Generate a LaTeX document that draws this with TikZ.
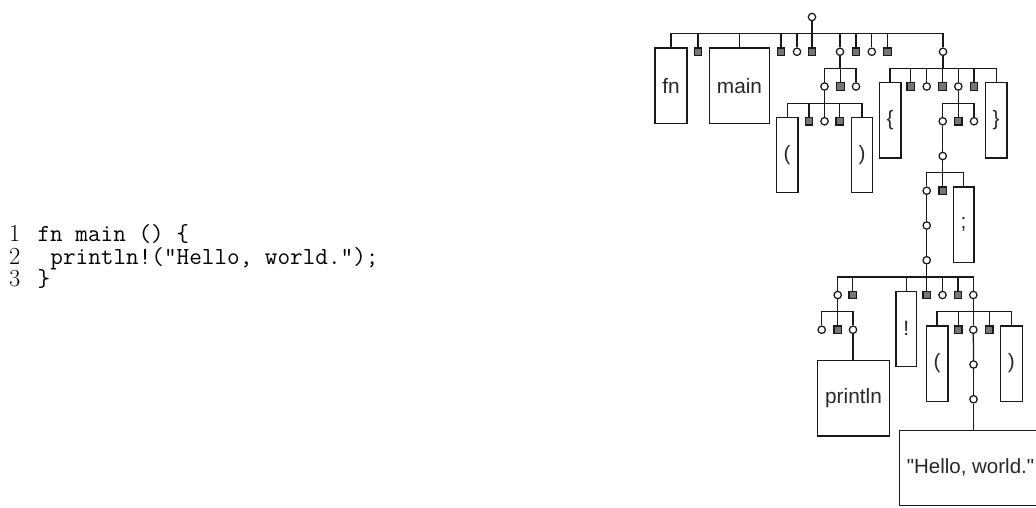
\documentclass[tikz,border=0pt]{standalone}
\usepackage{fontspec}
\newfontfamily\treefont{Liberation Sans}
\definecolor{sqfill}{RGB}{118,118,118}
\definecolor{tokentext}{RGB}{40,40,40}
\definecolor{edgecol}{RGB}{25,25,25}

% connect a parent to its children with a horizontal bus
\newcommand\kids[2]{%
  \foreach \k in {#2}
    \draw[edgecol] (#1.south) -- ++(0,-12.4) -| (\k.north);%
}

\begin{document}
\begin{tikzpicture}[x=1pt,y=1pt,line width=1.25pt,
  knot/.style={circle, draw=edgecol, fill=white, minimum size=7.4pt, inner sep=0pt},
  sqr/.style={rectangle, draw=edgecol, fill=sqfill, minimum size=7.4pt, inner sep=0pt},
  tokbox/.style={rectangle, draw=edgecol, fill=white, anchor=north,
    minimum height=75.4pt, minimum width=19pt, inner xsep=7.4pt, inner ysep=0pt,
    text=tokentext, font=\treefont\fontsize{20.8pt}{24pt}\selectfont},
  lnum/.style={anchor=base east, inner sep=0pt, font=\fontsize{24.5pt}{24.5pt}\selectfont},
  codeln/.style={anchor=base west, inner sep=0pt, font=\ttfamily\fontsize{24.5pt}{24.5pt}\selectfont},
]
\useasboundingbox (0,0) rectangle (1036,-507);

% source listing
\node[lnum] (n1) at (21,-241.7) {1};
\node[codeln] (l1) at (37,-241.7) {fn main () \{};
\node[lnum] (n2) at (21,-264.3) {2};
\node[codeln] (l2) at (37,-264.3) {\hspace*{0.525em}println!("Hello, world.");};
\node[lnum] (n3) at (21,-286.9) {3};
\node[codeln] (l3) at (37,-286.9) {\}};

% syntax tree
\node[knot] (r) at (812,-17) {};

\node[tokbox] (fn) at (671,-47.25) {fn};
\node[sqr] (a1) at (698,-51.75) {};
\node[tokbox] (main) at (739.5,-47.25) {main};
\node[sqr] (a2) at (781,-51.75) {};
\node[knot] (a3) at (797,-51.75) {};
\node[sqr] (a4) at (812,-51.75) {};
\node[knot] (a5) at (840,-51.75) {};
\node[sqr] (a6) at (856,-51.75) {};
\node[knot] (a7) at (871.8,-51.75) {};
\node[sqr] (a8) at (887.5,-51.75) {};
\node[knot] (a9) at (943,-51.75) {};
\kids{r}{fn,a1,main,a2,a3,a4,a5,a6,a7,a8,a9}

\node[knot] (b1) at (824.5,-86.5) {};
\node[sqr] (b2) at (840.5,-86.5) {};
\node[knot] (b3) at (856,-86.5) {};
\kids{a5}{b1,b2,b3}

\node[tokbox] (lbrace) at (890,-82) {\{};
\node[sqr] (b4) at (910.7,-86.5) {};
\node[knot] (b5) at (926.7,-86.5) {};
\node[sqr] (b6) at (942.5,-86.5) {};
\node[knot] (b7) at (958.3,-86.5) {};
\node[sqr] (b8) at (974,-86.5) {};
\node[tokbox] (rbrace) at (996.2,-82) {\}};
\kids{a9}{lbrace,b4,b5,b6,b7,b8,rbrace}

\node[tokbox] (lpar1) at (787.2,-116.75) {(};
\node[sqr] (c1) at (809,-121.25) {};
\node[knot] (c2) at (824.5,-121.25) {};
\node[sqr] (c3) at (839.7,-121.25) {};
\node[tokbox] (rpar1) at (862,-116.75) {)};
\kids{b1}{lpar1,c1,c2,c3,rpar1}

\node[knot] (c4) at (942.7,-121.25) {};
\node[sqr] (c5) at (958.3,-121.25) {};
\node[knot] (c6) at (974,-121.25) {};
\kids{b7}{c4,c5,c6}

\node[knot] (d1) at (942.7,-156) {};
\draw[edgecol] (c4.south) -- (d1.north);

\node[knot] (e1) at (926.7,-190.75) {};
\node[sqr] (e2) at (942.7,-190.75) {};
\node[tokbox] (semi) at (963.6,-186.25) {;};
\kids{d1}{e1,e2,semi}

\node[knot] (f1) at (926.7,-225.5) {};
\node[knot] (g1) at (926.7,-260.25) {};
\draw[edgecol] (e1.south) -- (f1.north);
\draw[edgecol] (f1.south) -- (g1.north);

\node[knot] (h1) at (837.7,-295) {};
\node[sqr] (h2) at (852.7,-295) {};
\node[tokbox] (bang) at (906.3,-290.5) {!};
\node[sqr] (h3) at (926.7,-295) {};
\node[knot] (h4) at (942.5,-295) {};
\node[sqr] (h5) at (957.9,-295) {};
\node[knot] (h6) at (973.3,-295) {};
\kids{g1}{h1,h2,bang,h3,h4,h5,h6}

\node[knot] (i1) at (821.7,-329.75) {};
\node[sqr] (i2) at (837.7,-329.75) {};
\node[knot] (i3) at (853,-329.75) {};
\kids{h1}{i1,i2,i3}

\node[tokbox] (lpar2) at (937,-325.25) {(};
\node[sqr] (i4) at (958.3,-329.75) {};
\node[knot] (i5) at (973.3,-329.75) {};
\node[sqr] (i6) at (989.3,-329.75) {};
\node[tokbox] (rpar2) at (1011.3,-325.25) {)};
\kids{h6}{lpar2,i4,i5,i6,rpar2}

\node[tokbox] (println) at (853.5,-360) {println};
\draw[edgecol] (i3.south) -- (i3.south |- println.north);

\node[knot] (j1) at (973.5,-364.5) {};
\node[knot] (k1) at (973.5,-399.25) {};
\draw[edgecol] (i5.south) -- (j1.north);
\draw[edgecol] (j1.south) -- (k1.north);

\node[tokbox, font=\treefont\fontsize{20.5pt}{24pt}\selectfont] (hello) at (970.5,-429.5) {"Hello, world."};
\draw[edgecol] (k1.south) -- (k1.south |- hello.north);
\end{tikzpicture}
\end{document}
